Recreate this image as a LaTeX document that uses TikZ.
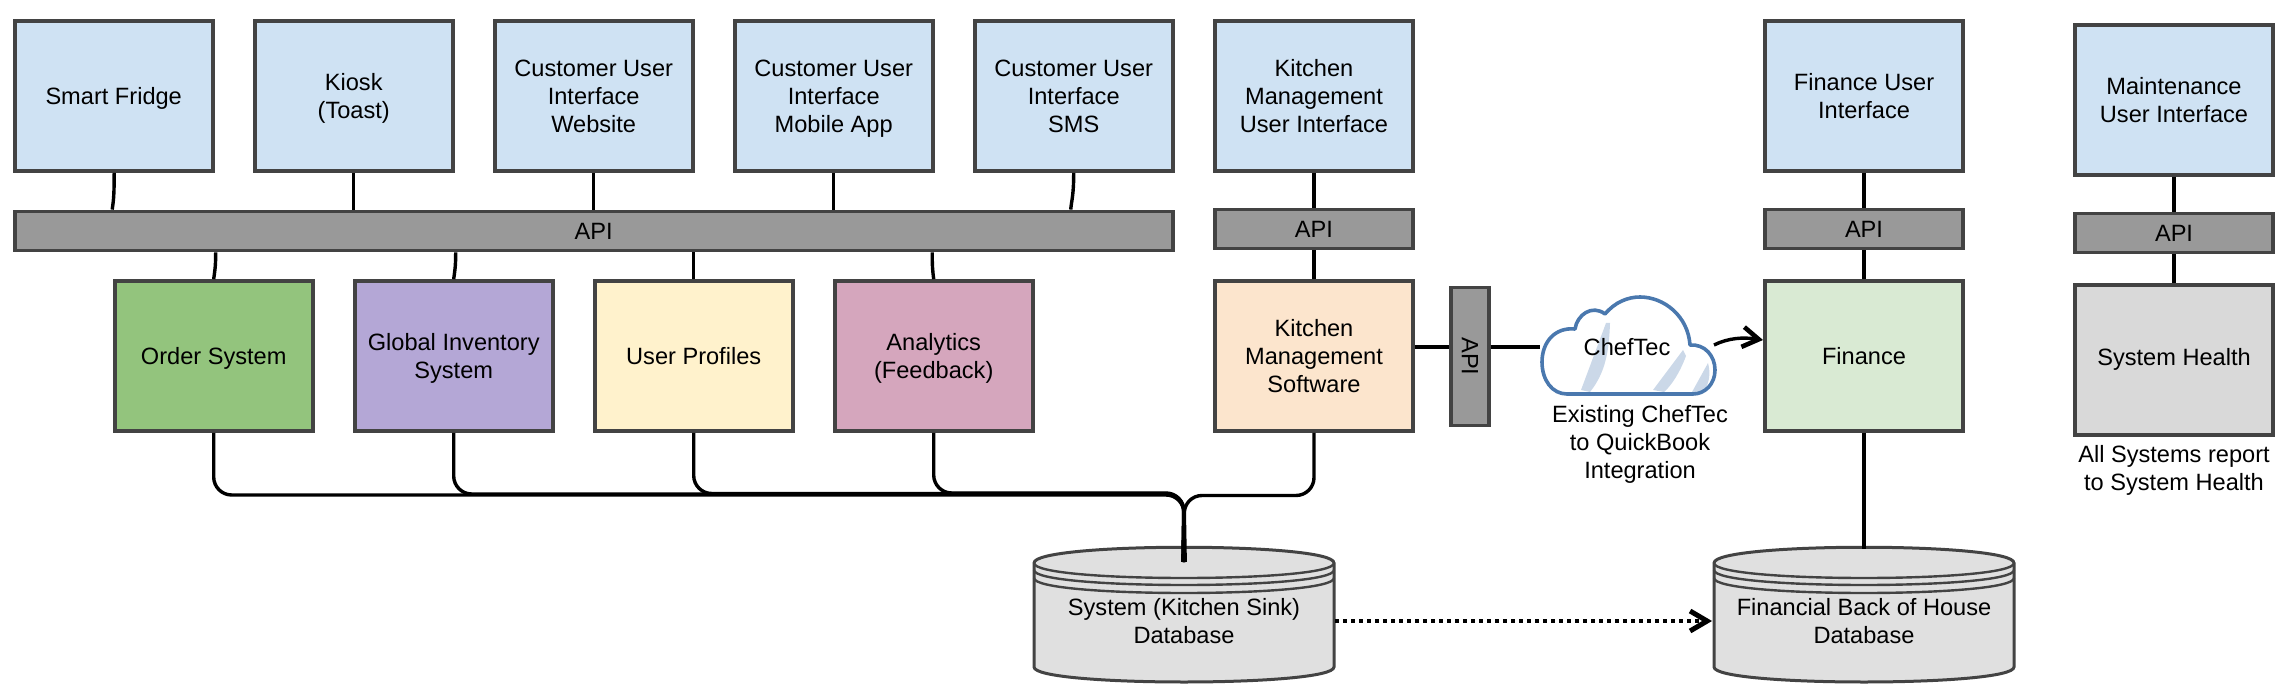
\documentclass[tikz,border=0pt]{standalone}
\usepackage{fontspec}
\usetikzlibrary{arrows.meta}
\setmainfont{Liberation Sans}
\definecolor{edgec}{HTML}{434343}
\definecolor{uiblue}{HTML}{CFE2F3}
\definecolor{apigray}{HTML}{999999}
\definecolor{ordergreen}{HTML}{93C47D}
\definecolor{invpurple}{HTML}{B4A7D6}
\definecolor{profyellow}{HTML}{FFF2CC}
\definecolor{anapink}{HTML}{D5A6BD}
\definecolor{kitorange}{HTML}{FCE5CD}
\definecolor{fingreen}{HTML}{D9EAD3}
\definecolor{healthgray}{HTML}{D9D9D9}
\definecolor{dbgray}{HTML}{E0E0E0}
\definecolor{cloudblue}{HTML}{4A78AE}
\definecolor{cloudshade}{HTML}{CBD8E8}
\tikzset{
  txt/.style={font=\fontsize{23.6}{28}\selectfont,align=center,inner sep=0pt,text=black,text depth=0pt},
  boxn/.style={txt,draw=edgec,line width=3.8pt,minimum width=198pt,minimum height=150pt},
  uibox/.style={boxn,fill=uiblue},
  apibar/.style={txt,draw=edgec,line width=3.8pt,fill=apigray,minimum height=39pt},
  link/.style={draw=black,line width=3.4pt},
  buslink/.style={link,rounded corners=18pt},
  dbedge/.style={draw=edgec,line width=3pt,fill=dbgray},
  dbline/.style={draw=edgec,line width=2.4pt},
}
\newcommand{\dbdraw}[4]{% cx, rx, top, bottom
  \pgfmathsetmacro{\xl}{#1-#2}\pgfmathsetmacro{\xr}{#1+#2}
  \pgfmathsetmacro{\ys}{#3+16}\pgfmathsetmacro{\yb}{#4-15}
  \path[dbedge] (\xl,\ys) .. controls (\xl,#3-5) and (\xr,#3-5) .. (\xr,\ys) -- (\xr,\yb)
     .. controls (\xr,#4+5) and (\xl,#4+5) .. (\xl,\yb) -- cycle;
  \path[dbline] (\xl,\ys) .. controls (\xl,\ys+20) and (\xr,\ys+20) .. (\xr,\ys);
  \path[dbline] (\xl,\ys+7) .. controls (\xl,\ys+27) and (\xr,\ys+27) .. (\xr,\ys+7);
  \path[dbline] (\xl,\ys+15) .. controls (\xl,\ys+35) and (\xr,\ys+35) .. (\xr,\ys+15);
}
\begin{document}
\begin{tikzpicture}[x=1pt,y=-1pt]
\useasboundingbox (0,0) rectangle (2288,700);

% top row
\node[uibox] (fridge) at (113.7,96) {Smart Fridge};
\node[uibox] (kiosk) at (353.7,96) {Kiosk\\(Toast)};
\node[uibox] (web) at (593.7,96) {Customer User\\Interface\\Website};
\node[uibox] (mobile) at (833.7,96) {Customer User\\Interface\\Mobile App};
\node[uibox] (sms) at (1073.7,96) {Customer User\\Interface\\SMS};
\node[uibox] (kitui) at (1314,96) {Kitchen\\Management\\User Interface};
\node[uibox] (finui) at (1864,96) {Finance User\\Interface};
\node[uibox] (mntui) at (2174,100) {Maintenance\\User Interface};

% API bars
\node[apibar,minimum width=1158pt] (apimain) at (593.7,231) {API};
\node[apibar,minimum width=198pt] (apikit) at (1314,229) {API};
\node[apibar,minimum width=198pt] (apifin) at (1864,229) {API};
\node[apibar,minimum width=198pt] (apimnt) at (2174,233) {API};

% service row
\node[boxn,fill=ordergreen] (order) at (213.7,356) {Order System};
\node[boxn,fill=invpurple] (inv) at (453.7,356) {Global Inventory\\System};
\node[boxn,fill=profyellow] (prof) at (693.7,356) {User Profiles};
\node[boxn,fill=anapink] (ana) at (933.7,356) {Analytics\\(Feedback)};
\node[boxn,fill=kitorange] (kit) at (1314,356) {Kitchen\\Management\\Software};
\node[boxn,fill=fingreen,text depth=-3pt] (fin) at (1864,356) {Finance};
\node[boxn,fill=healthgray,text depth=6pt] (health) at (2174,360) {System Health};

% vertical API
\node[apibar,minimum width=38pt,minimum height=138pt] (apiv) at (1470,356.5) {};
\node[txt,rotate=-90] (apivt) at (apiv.center) {API};

% databases
\dbdraw{1184}{150}{547}{682}
\dbdraw{1864}{150}{547}{682}
\node[txt] (sysdb) at (1184,621) {System (Kitchen Sink)\\Database};
\node[txt] (findb) at (1864,621) {Financial Back of House\\Database};
\coordinate (sysstem) at (1184,562);
\coordinate (systop) at (1184,495.5);
\coordinate (sysright) at (1335,621);
\coordinate (finleft) at (1712,621);
\coordinate (findbtop) at (1864,549);

% cloud
\fill[cloudshade] (1581,390) -- (1606,323) -- (1610,323) .. controls (1609,350) and (1606,372) .. (1590,392) -- cycle;
\fill[cloudshade] (1653,390) -- (1683,350) -- (1686,356) .. controls (1680,372) and (1672,385) .. (1664,392) -- cycle;
\fill[cloudshade] (1692,392) -- (1708,363) .. controls (1711,374) and (1709,385) .. (1703,392) -- cycle;
\draw[cloudblue,line width=3.6pt,line join=round]
  (1567,394) .. controls (1552,394) and (1542,380) .. (1542,362)
  .. controls (1542,342) and (1555,327) .. (1575,329)
  .. controls (1577,315) and (1592,304) .. (1605,314)
  .. controls (1615,302) and (1628,297) .. (1640,297)
  .. controls (1664,297) and (1688,316) .. (1690,345)
  .. controls (1705,344) and (1715,356) .. (1715,370)
  .. controls (1715,384) and (1705,394) .. (1693,394) -- cycle;
\node[txt] (chef) at (1627,347) {ChefTec};
\coordinate (cloudleft) at (1540,347);
\coordinate (cloudright) at (1714,345);
\coordinate (finarrow) at (1763,340);

% notes
\node[txt] (cheftecnote) at (1640,441.5) {Existing ChefTec\\to QuickBook\\Integration};
\node[txt] (healthnote) at (2174,468) {All Systems report\\to System Health};

% upper links
\draw[link] ([xshift=0.5pt]fridge.south) .. controls +(0,26) and +(1,-8) .. ([xshift=-1.5pt]apimain.north -| fridge.south);
\draw[link] (kiosk.south) -- (apimain.north -| kiosk.south);
\draw[link] (web.south) -- (apimain.north -| web.south);
\draw[link] (mobile.south) -- (apimain.north -| mobile.south);
\draw[link] (sms.south) .. controls +(0,22) and +(1,-10) .. ([xshift=-3pt]apimain.north -| sms.south);
\draw[link] ([xshift=2pt]apimain.south -| order.north) .. controls +(0,15) and +(1,-8) .. (order.north);
\draw[link] ([xshift=2pt]apimain.south -| inv.north) .. controls +(0,15) and +(1,-8) .. (inv.north);
\draw[link] (apimain.south -| prof.north) -- (prof.north);
\draw[link] ([xshift=-1.5pt]apimain.south -| ana.north) .. controls +(0,15) and +(-1,-8) .. (ana.north);
\draw[link] (kitui) -- (apikit) (apikit) -- (kit);
\draw[link] (finui) -- (apifin) (apifin) -- (fin);
\draw[link] (mntui) -- (apimnt) (apimnt) -- (health);

% bus to database
\draw[buslink] (order.south) -- ([yshift=0.5pt]order.south |- systop) -- ([yshift=0.5pt]systop) -- ([xshift=-0.5pt]sysstem);
\draw[buslink] (inv.south) -- ([yshift=1.5pt]inv.south |- systop) -- ([yshift=1.5pt]systop) -- ([xshift=-1.2pt]sysstem);
\draw[buslink] (prof.south) -- ([yshift=2pt]prof.south |- systop) -- ([yshift=2pt]systop) -- ([xshift=-1.2pt]sysstem);
\draw[buslink] (ana.south) -- ([yshift=2.5pt]ana.south |- systop) -- ([yshift=2.5pt]systop) -- ([xshift=0pt]sysstem);
\draw[buslink] (kit.south) -- (kit.south |- systop) -- (systop) -- ([xshift=1.2pt]sysstem);

% cheftec path
\draw[link] (kit.east |- cloudleft) -- (apiv.west |- cloudleft);
\draw[link] (apiv.east |- cloudleft) -- (cloudleft);
\draw[link,-{Straight Barb[length=16pt,width=20pt,line width=4.6pt]}] (cloudright) .. controls +(14,-7) and +(-20,-3) .. (finarrow);

% finance db
\draw[link] (fin.south) -- (findbtop);
\draw[link,line width=3.6pt,dash pattern=on 3.8pt off 4.2pt,-{Straight Barb[length=17pt,width=20pt,line width=5pt]}] (sysright) -- (finleft);
\end{tikzpicture}
\end{document}
